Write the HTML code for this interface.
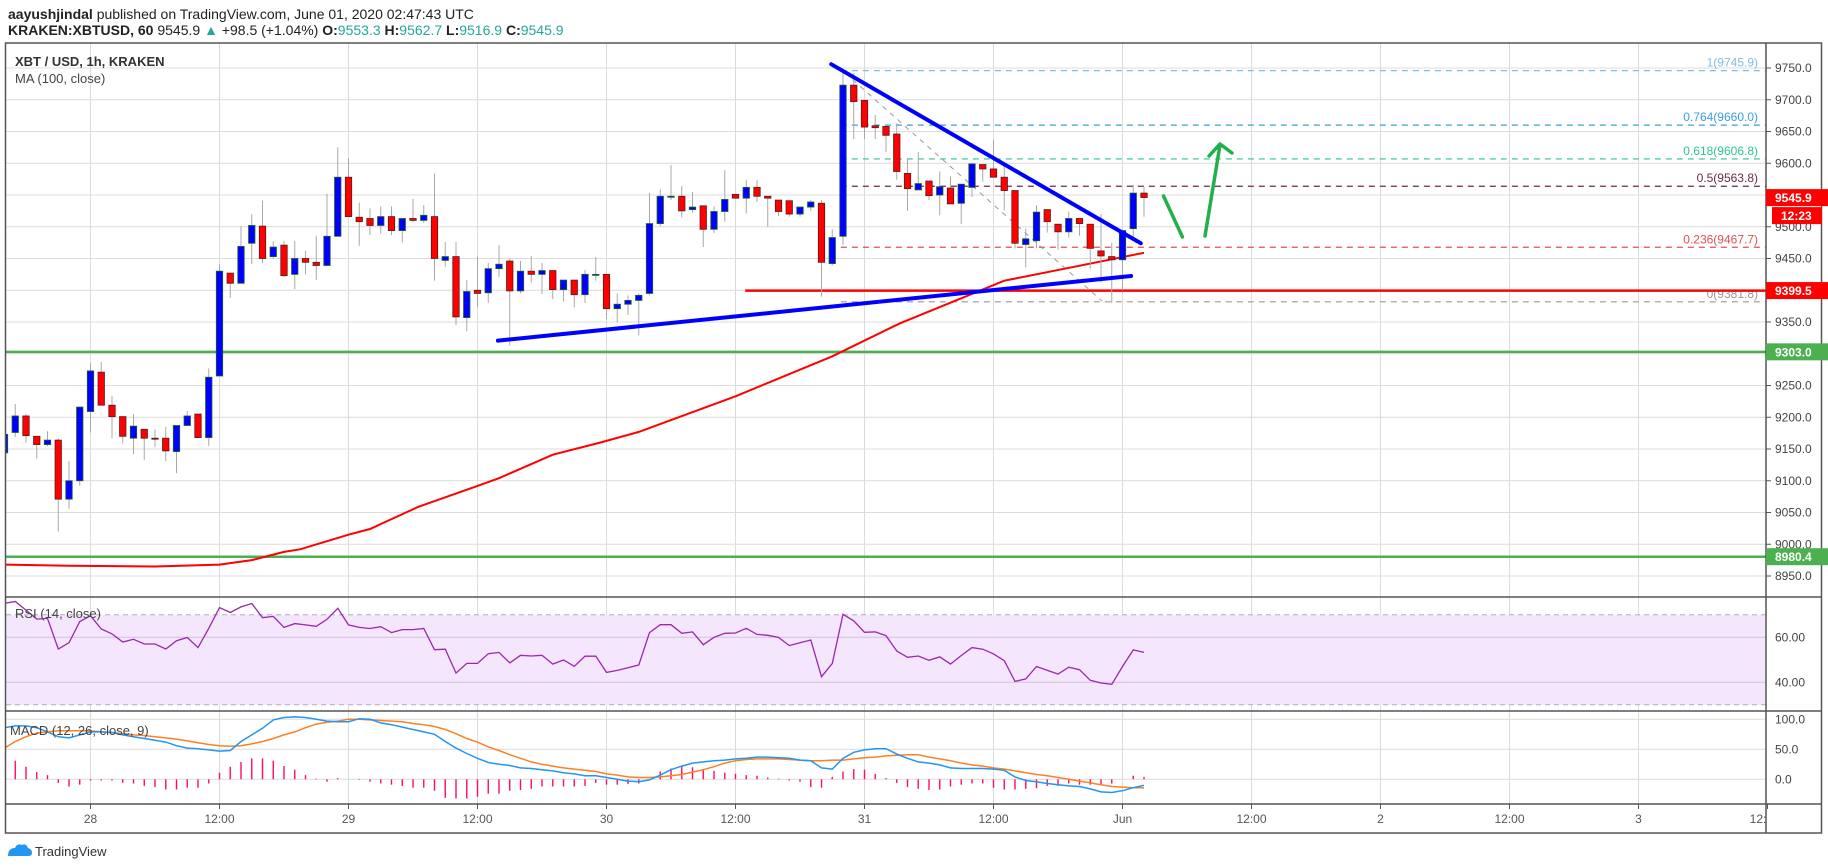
<!DOCTYPE html>
<html><head><meta charset="utf-8"><style>
html,body{margin:0;padding:0;background:#fff;}
svg{display:block;font-family:"Liberation Sans",sans-serif;}
</style></head><body>
<svg id="c" width="1828" height="868" viewBox="0 0 1828 868">
<defs><clipPath id="cp"><rect x="6" y="43" width="1760" height="761"/></clipPath></defs>
<text x="8" y="19" font-size="14" fill="#222"><tspan font-weight="bold">aayushjindal</tspan> published on TradingView.com, June 01, 2020 02:47:43 UTC</text>
<text x="8" y="35" font-size="14" fill="#222"><tspan font-weight="bold">KRAKEN:XBTUSD, 60</tspan> 9545.9 <tspan fill="#26a69a">▲</tspan> +98.5 (+1.04%) <tspan font-weight="bold">O:</tspan><tspan fill="#26a69a">9553.3</tspan> <tspan font-weight="bold">H:</tspan><tspan fill="#26a69a">9562.7</tspan> <tspan font-weight="bold">L:</tspan><tspan fill="#26a69a">9516.9</tspan> <tspan font-weight="bold">C:</tspan><tspan fill="#26a69a">9545.9</tspan></text>
<g id="grid"></g>
<g id="marks" clip-path="url(#cp)"></g>
<g id="frame"></g>
<g id="axis"></g>
<text x="15" y="66" font-size="13" font-weight="bold" fill="#333">XBT / USD, 1h, KRAKEN</text>
<text x="15" y="83" font-size="13" fill="#444">MA (100, close)</text>
<text x="15" y="618" font-size="13" fill="#444">RSI (14, close)</text>
<text x="10" y="735" font-size="13" fill="#444">MACD (12, 26, close, 9)</text>
<g>
<path d="M8 856 q0-8 7-8 q2-5 7-3 q4-2 6 3 q4 1 4 5 q0 3-4 3 z" fill="#2196f3"/>
<text x="35" y="856" font-size="13" fill="#333">TradingView</text>
</g>
</svg>
<script>
const startHour = -8;
const opens  = [9144,9176,9202,9170,9157,9164,9071,9100,9209,9271,9219,9201,9167,9181,9167,9167,9146,9187,9205,9168,9265,9427,9411,9474,9501,9453,9471,9425,9450,9444,9439,9485,9578,9515,9513,9502,9516,9494,9513,9510,9516,9447,9453,9357,9400,9396,9434,9446,9399,9430,9425,9431,9401,9416,9393,9425,9425,9371,9378,9384,9395,9505,9548,9548,9527,9533,9496,9524,9551,9545,9562,9548,9542,9541,9520,9531,9537,9442,9485,9723,9699,9659,9658,9646,9584,9558,9572,9550,9561,9537,9562,9598,9591,9578,9557,9472,9478,9527,9504,9492,9513,9504,9462,9453,9448,9497,9553];
const highs  = [9180,9221,9205,9170,9178,9167,9131,9216,9285,9287,9233,9201,9205,9181,9181,9185,9187,9210,9205,9277,9441,9427,9501,9520,9541,9477,9478,9478,9462,9486,9552,9625,9608,9538,9529,9532,9532,9513,9544,9534,9584,9476,9476,9416,9453,9443,9471,9450,9446,9454,9443,9431,9416,9416,9432,9452,9425,9395,9392,9395,9553,9559,9597,9564,9555,9533,9532,9589,9551,9574,9574,9548,9542,9541,9531,9542,9542,9496,9742,9742,9699,9676,9658,9663,9608,9618,9572,9587,9579,9567,9599,9598,9637,9600,9557,9497,9534,9527,9504,9524,9513,9504,9520,9475,9494,9566,9563];
const lows   = [9138,9169,9160,9135,9154,9020,9056,9092,9176,9219,9167,9159,9142,9133,9153,9131,9112,9187,9168,9155,9265,9388,9411,9441,9443,9450,9421,9402,9425,9416,9439,9485,9516,9470,9487,9489,9487,9475,9507,9506,9415,9437,9345,9335,9373,9380,9421,9313,9395,9412,9394,9386,9382,9373,9380,9415,9355,9350,9361,9329,9392,9501,9542,9515,9522,9468,9490,9508,9545,9521,9539,9500,9517,9516,9516,9525,9390,9439,9471,9638,9638,9638,9618,9574,9525,9558,9542,9518,9536,9504,9547,9571,9578,9526,9466,9436,9466,9491,9464,9483,9486,9434,9412,9380,9400,9479,9516];
const closes = [9173,9202,9171,9157,9164,9071,9100,9216,9273,9219,9201,9170,9186,9167,9166,9147,9187,9202,9168,9263,9430,9411,9469,9502,9450,9468,9423,9450,9444,9439,9485,9578,9516,9508,9502,9516,9494,9513,9510,9518,9450,9453,9358,9398,9395,9434,9441,9399,9430,9425,9431,9401,9416,9393,9425,9425,9371,9378,9384,9392,9505,9548,9548,9525,9531,9496,9524,9543,9545,9562,9548,9545,9524,9520,9531,9539,9444,9483,9723,9697,9657,9656,9644,9587,9560,9568,9549,9563,9536,9567,9599,9591,9578,9557,9474,9481,9523,9508,9492,9513,9505,9466,9454,9448,9494,9553,9546];
const maHours  = [-8,-2,6,12,15,18,19.5,24,26,30.5,35.7,38,43,47.4,51,60,69,75.3,85,91.5,98];
const maValues = [8968,8966,8965,8968,8975,8988,8992,9015,9024,9059,9090,9104,9141,9160,9177,9233,9296,9348,9415,9437,9459];
const rsiValues = [75.1,75.9,72.1,68.1,68.4,54.8,57.6,67.0,69.6,63.7,61.5,57.9,59.1,57.0,57.0,54.8,58.5,59.9,55.4,64.0,73.2,71.0,73.5,75.0,68.7,69.3,64.4,66.1,65.5,64.9,68.0,72.9,65.5,64.4,63.9,64.7,62.1,63.4,63.4,63.9,54.5,54.7,44.1,48.4,48.4,52.7,53.3,48.6,52.0,51.7,52.0,48.1,49.9,47.1,51.6,51.6,44.4,45.3,46.5,47.7,62.1,65.6,65.6,61.8,62.4,56.7,60.0,61.8,61.9,64.0,61.3,60.9,60.0,56.3,57.6,58.8,42.5,48.4,70.2,67.3,62.2,62.4,60.7,53.9,51.1,51.7,49.8,51.3,48.1,51.9,55.4,54.7,52.6,49.6,40.4,41.5,47.0,45.3,43.7,46.7,45.6,40.9,39.7,39.1,47.0,54.4,53.3];
const macdValues = [86,89,89,86,79,71,69,74,79,79,78,74,71,68,65,62,56,52,51,49,47,48,63,74,85,99,103,104,103,100,97,96,96,101,100,94,91,87,83,79,75,63,52,43,35,28,25,23,19,18,16,14,11,9,6,6,3,0,-3,-4,-1,7,16,22,27,29,31,32,34,35,37,37,36,35,32,31,19,17,35,45,49,51,51,42,35,29,27,24,19,18,18,18,17,15,4,-2,-4,-7,-9,-11,-12,-16,-21,-22,-19,-14,-10];
const signalValues = [52,63,71,77,79,81,81,81,81,79,78,76,74,73,71,69,67,64,61,58,56,55,56,59,63,68,74,79,86,92,95,97,100,100,99,98,97,96,93,91,88,83,76,68,62,54,48,41,35,29,25,22,19,17,15,13,9,7,4,3,3,4,6,8,12,16,21,27,31,33,34,34,34,33,32,31,31,32,32,34,36,37,39,40,41,41,37,34,31,27,24,22,19,17,14,11,8,6,3,0,-3,-6,-9,-12,-13,-14,-14];
const histValues = [30,31,21,12,7,-6,-12,-9,-2,-2,-2,-6,-7,-11,-13,-17,-17,-14,-14,-7,11,21,29,35,35,31,22,16,7,1,-4,2,0,-1,-4,-7,-9,-11,-14,-14,-19,-31,-32,-32,-29,-24,-24,-19,-18,-16,-12,-12,-12,-12,-11,-6,-9,-9,-8,-7,0,13,18,21,20,17,14,11,9,7,6,3,1,-2,-4,-13,-14,4,13,17,16,9,2,-6,-13,-16,-18,-17,-12,-9,-7,-7,-14,-17,-17,-16,-15,-11,-11,-7,-9,-9,-8,-7,0,6,4];
const priceTicks = [9750,9700,9650,9600,9550,9500,9450,9400,9350,9300,9250,9200,9150,9100,9050,9000,8950];
const fibPrices = [9745.9,9660.0,9606.8,9563.8,9467.7,9381.8];
const fibLabels = ["1(9745.9)","0.764(9660.0)","0.618(9606.8)","0.5(9563.8)","0.236(9467.7)","0(9381.8)"];
const fibColors = ["#7dbde6","#3a9fdc","#2fc48e","#6a2a4a","#e05050","#999"];
const timeHours = [0,12,24,36,48,60,72,84,96,108,120,132,144,156];
const timeLabels = ["28","12:00","29","12:00","30","12:00","31","12:00","Jun","12:00","2","12:00","3","12:"];

const NS="http://www.w3.org/2000/svg";
const X0=90.5, PXH=10.75, RIGHT=1766;
const xh=h=>X0+h*PXH;
const yp=p=>68+(9750-p)*0.635;
const yr=v=>637.3+(60-v)*2.25;
const ym=v=>779.3-v*0.6;
function mk(parent,tag,attrs){const e=document.createElementNS(NS,tag);for(const k in attrs)e.setAttribute(k,attrs[k]);document.getElementById(parent).appendChild(e);return e;}

// grid
for(const t of timeHours){if(xh(t)>RIGHT)continue;
 const g=mk('grid','line',{x1:xh(t),x2:xh(t),y1:43,y2:804,stroke:'#dcdcdc','stroke-width':1});
 
 }
for(const p of priceTicks){
 const g=mk('grid','line',{x1:6,x2:RIGHT,y1:yp(p),y2:yp(p),stroke:'#dcdcdc','stroke-width':1});
 
 }
// RSI band
const band=mk('grid','rect',{x:6,y:yr(70),width:RIGHT-6,height:yr(30)-yr(70),fill:'#f3e6fd'});


for(const v of [70,30]){const l=mk('grid','line',{x1:6,x2:RIGHT,y1:yr(v),y2:yr(v),stroke:'#b8a8c0','stroke-dasharray':'5 4'});
 
 }
for(const v of [60,40]){const l=mk('grid','line',{x1:6,x2:RIGHT,y1:yr(v),y2:yr(v),stroke:'#d0c4d8'});
 
 }
for(const v of [100,50,0]){const l=mk('grid','line',{x1:6,x2:RIGHT,y1:ym(v),y2:ym(v),stroke:'#dcdcdc'});
 
 }

// horizontal levels
function hline(p,x1,col,w,name){const l=mk('marks','line',{x1:x1,x2:RIGHT,y1:yp(p),y2:yp(p),stroke:col,'stroke-width':w});
 
 }
hline(9303.0,6,'#4caf50',2.5,'support-9303');
hline(8980.4,6,'#4caf50',2.5,'support-8980');
// fib
const fibStart=xh(69.8);
fibPrices.forEach((p,i)=>{
 const l=mk('marks','line',{x1:fibStart,x2:RIGHT,y1:yp(p),y2:yp(p),stroke:fibColors[i],'stroke-width':1.2,'stroke-dasharray':'6 5'});
 
 
 const t=mk('marks','text',{x:1758,y:yp(p)-4,'font-size':12,fill:fibColors[i],'text-anchor':'end'});
 t.textContent=fibLabels[i];
 
 
});
const fd=mk('marks','line',{x1:xh(70.2),y1:yp(9742),x2:xh(94.1),y2:yp(9383),stroke:'#999','stroke-width':1,'stroke-dasharray':'5 5'});


hline(9399.5,xh(60.9),'#ff0000',2.5,'resistance-9399');

// MA
let d='';maHours.forEach((h,i)=>{d+=(i?'L':'M')+xh(h).toFixed(1)+' '+yp(maValues[i]).toFixed(1);});
const ma=mk('marks','path',{d:d,fill:'none',stroke:'#ff0000','stroke-width':2});



// candles
closes.forEach((c,i)=>{
 const h=startHour+i,x=xh(h),o=opens[i],up=c>=o;
 const w=mk('marks','line',{x1:x,x2:x,y1:yp(highs[i]),y2:yp(lows[i]),stroke:'#a8a8a8','stroke-width':1});
 
 
 const top=yp(Math.max(o,c)),bh=Math.max(1,yp(Math.min(o,c))-top);
 const b=mk('marks','rect',{x:x-3.2,y:top,width:6.4,height:bh,fill:up?'#0000ff':'#ff0000',stroke:up?'#1d5e2a':'#5a1a1a','stroke-width':0.8});
 
 
});

// trendlines
function tl(h1,p1,h2,p2,col,w,name){const l=mk('marks','line',{x1:xh(h1),y1:yp(p1),x2:xh(h2),y2:yp(p2),stroke:col,'stroke-width':w,'stroke-linecap':'round'});
 
 }
tl(37.9,9320.6,96.8,9422.4,'#0000ff',4,'support-trendline');
tl(68.9,9756,97.7,9474,'#0000ff',4,'resistance-trendline');
// arrows
const ar=mk('marks','path',{d:'M1163.5 196 L1182.4 237 M1205 236 L1220 145 M1209 156 L1220 144 L1232 153',fill:'none',stroke:'#22b04c','stroke-width':3.5,'stroke-linecap':'round','stroke-linejoin':'round'});



// RSI
d='';rsiValues.forEach((v,i)=>{d+=(i?'L':'M')+xh(startHour+i).toFixed(1)+' '+yr(v).toFixed(1);});
const rl=mk('marks','path',{d:d,fill:'none',stroke:'#9c27b0','stroke-width':1.3});


// MACD
histValues.forEach((v,i)=>{const x=xh(startHour+i);
 const b=mk('marks','line',{x1:x,x2:x,y1:ym(0),y2:ym(v),stroke:'#ff0a6c','stroke-width':1.4});
 
 });
d='';signalValues.forEach((v,i)=>{d+=(i?'L':'M')+xh(startHour+i).toFixed(1)+' '+ym(v).toFixed(1);});
const sl=mk('marks','path',{d:d,fill:'none',stroke:'#ff7f24','stroke-width':1.5});


d='';macdValues.forEach((v,i)=>{d+=(i?'L':'M')+xh(startHour+i).toFixed(1)+' '+ym(v).toFixed(1);});
const ml=mk('marks','path',{d:d,fill:'none',stroke:'#2196f3','stroke-width':1.5});



// frame
mk('frame','rect',{x:5.5,y:43,width:1816,height:790,fill:'none',stroke:'#555','stroke-width':1.5});
mk('frame','line',{x1:RIGHT,x2:RIGHT,y1:43,y2:833,stroke:'#555','stroke-width':1.5});
mk('frame','line',{x1:5,x2:1822,y1:597,y2:597,stroke:'#555','stroke-width':1.5});
mk('frame','line',{x1:5,x2:1822,y1:711,y2:711,stroke:'#555','stroke-width':1.5});
mk('frame','line',{x1:5,x2:1822,y1:804,y2:804,stroke:'#555','stroke-width':1.5});

// axes labels
for(const p of priceTicks){
 mk('axis','line',{x1:RIGHT,x2:RIGHT+5,y1:yp(p),y2:yp(p),stroke:'#555'});
 const t=mk('axis','text',{x:1775,y:yp(p)+4,'font-size':12,fill:'#444'});
 t.textContent=p.toFixed(1);
 
 }
for(const v of [60,40]){const t=mk('axis','text',{x:1775,y:yr(v)+4,'font-size':12,fill:'#444'});t.textContent=v.toFixed(2);
 
 }
for(const v of [100,50,0]){const t=mk('axis','text',{x:1775,y:ym(v)+4,'font-size':12,fill:'#444'});t.textContent=v.toFixed(1);
 
 }
timeHours.forEach((h,i)=>{const x=xh(h);if(x>RIGHT+2)return;
 mk('axis','line',{x1:x,x2:x,y1:804,y2:809,stroke:'#555'});
 const t=mk('axis','text',{x:Math.min(x,RIGHT-8),y:823,'font-size':12,fill:'#555','text-anchor':'middle'});
 t.textContent=timeLabels[i];
 
 });
function box(p,txt,col,name,yo,xo,w){const y=yp(p)+(yo||0);
 mk('axis','rect',{x:RIGHT+(xo||0),y:y-8.5,width:w||62,height:17,fill:col});
 const t=mk('axis','text',{x:1775+(xo||0),y:y+4.5,'font-size':12,'font-weight':'bold',fill:'#fff'});
 t.textContent=txt;
 
 }
box(9545.9,'9545.9','#ff0000','last-price-label',0);
box(9545.9,'12:23','#ff0000','countdown-label',18,6,50);
box(9399.5,'9399.5','#ff0000','resistance-price-label',0);
box(9303.0,'9303.0','#4caf50','support-9303-label',0);
box(8980.4,'8980.4','#4caf50','support-8980-label',0);
</script>
</body></html>
